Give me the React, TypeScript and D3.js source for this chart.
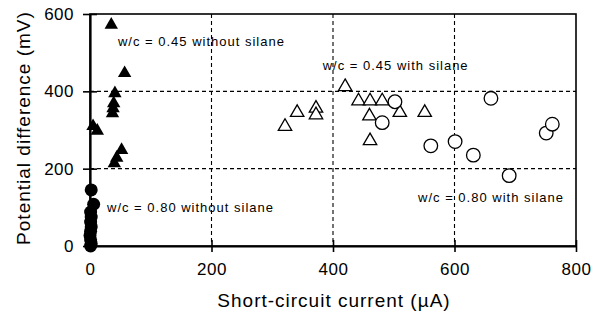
import { useRef, useEffect } from "react"
import * as d3 from "d3"

// w/c = 0.45 without silane (filled triangles)
const noSilane045X = [35, 57, 41, 39, 38, 37, 5, 12, 52, 44, 40]
const noSilane045Y = [572, 447, 395, 369, 356, 343, 310, 298, 248, 228, 214]

// w/c = 0.80 without silane (filled circles)
const noSilane080X = [2, 6, 1, 2, 1, 2, 1, 0, 1, 2, 1]
const noSilane080Y = [145, 108, 88, 75, 62, 50, 38, 27, 16, 6, 0]

// w/c = 0.45 with silane (open triangles)
const silane045X = [321, 341, 372, 372, 420, 442, 461, 481, 460, 510, 551, 461]
const silane045Y = [309, 345, 356, 339, 412, 375, 375, 375, 336, 345, 345, 272]

// w/c = 0.80 with silane (open circles)
const silane080X = [502, 481, 561, 601, 631, 690, 660, 751, 761]
const silane080Y = [373, 319, 259, 270, 235, 182, 382, 292, 315]

const xTicks = [0, 200, 400, 600, 800]
const yTicks = [0, 200, 400, 600]

const labels = [
  { text: "w/c = 0.45 without silane", x: 46, y: 516 },
  { text: "w/c = 0.45 with silane", x: 383, y: 455 },
  { text: "w/c = 0.80 without silane", x: 28, y: 88 },
  { text: "w/c = 0.80 with silane", x: 540, y: 114 },
]

export default function App() {
  const svgRef = useRef<SVGSVGElement>(null)

  function drawChart() {
    const width = 603
    const height = 322
    const left = 90
    const right = 576
    const top = 14
    const bottom = 246
    const font = "'Liberation Sans', Arial, Helvetica, sans-serif"

    const svg = d3.select(svgRef.current).attr("width", width).attr("height", height)
    svg.selectAll("*").remove()
    svg.append("rect").attr("width", width).attr("height", height).attr("fill", "#fff")

    const x = d3.scaleLinear().domain([0, 800]).range([left, right])
    const y = d3.scaleLinear().domain([0, 600]).range([bottom, top])

    // grid
    const grid = svg.append("g").attr("stroke", "#000").attr("stroke-width", 1.1).attr("stroke-dasharray", "4,3")
    grid
      .selectAll("line.v")
      .data(xTicks.slice(1, -1))
      .enter()
      .append("line")
      .attr("x1", (d) => x(d))
      .attr("x2", (d) => x(d))
      .attr("y1", top)
      .attr("y2", bottom)
    grid
      .selectAll("line.h")
      .data(yTicks.slice(1, -1))
      .enter()
      .append("line")
      .attr("x1", left)
      .attr("x2", right)
      .attr("y1", (d) => y(d))
      .attr("y2", (d) => y(d))

    // frame
    svg
      .append("rect")
      .attr("x", left)
      .attr("y", top)
      .attr("width", right - left)
      .attr("height", bottom - top)
      .attr("fill", "none")
      .attr("stroke", "#000")
      .attr("stroke-width", 1.6)

    // axes
    const xAxis = svg
      .append("g")
      .attr("transform", `translate(0,${bottom})`)
      .call(d3.axisBottom(x).tickValues(xTicks).tickSize(6).tickSizeOuter(0))
    xAxis.select(".domain").attr("stroke-width", 2.2)
    xAxis.selectAll(".tick line").attr("y1", -6).attr("stroke-width", 1.6)
    xAxis
      .selectAll(".tick text")
      .attr("y", 17)
      .attr("dy", "0.71em")
      .style("font-size", "17px")
      .style("letter-spacing", "0.5px")
      .style("font-family", font)
      .attr("fill", "#000")

    const yAxis = svg
      .append("g")
      .attr("transform", `translate(${left},0)`)
      .call(d3.axisLeft(y).tickValues(yTicks).tickSize(7).tickSizeOuter(0))
    yAxis.select(".domain").attr("stroke-width", 2.2)
    yAxis.selectAll(".tick line").attr("x2", 7).attr("x1", -7).attr("stroke-width", 1.6)
    yAxis
      .selectAll(".tick text")
      .attr("x", -16)
      .style("font-size", "17px")
      .style("letter-spacing", "0.5px")
      .style("font-family", font)
      .attr("fill", "#000")

    // axis titles
    svg
      .append("text")
      .attr("x", 334)
      .attr("y", 307)
      .attr("text-anchor", "middle")
      .style("font-size", "19px")
      .style("letter-spacing", "1px")
      .style("font-family", font)
      .text("Short-circuit current (\u00b5A)")
    svg
      .append("text")
      .attr("transform", `translate(30,128) rotate(-90)`)
      .attr("text-anchor", "middle")
      .style("font-size", "19px")
      .style("letter-spacing", "1px")
      .style("font-family", font)
      .text("Potential difference (mV)")

    const tri = d3.symbol().type(d3.symbolTriangle).size(78)

    // series
    const pts = (xs: number[], ys: number[]) => xs.map((v, i) => [v, ys[i]])

    svg
      .append("g")
      .selectAll("path")
      .data(pts(noSilane045X, noSilane045Y))
      .enter()
      .append("path")
      .attr("d", tri)
      .attr("transform", (d) => `translate(${x(d[0])},${y(d[1])})`)
      .attr("fill", "#000")

    svg
      .append("g")
      .selectAll("circle")
      .data(pts(noSilane080X, noSilane080Y))
      .enter()
      .append("circle")
      .attr("cx", (d) => x(d[0]))
      .attr("cy", (d) => y(d[1]))
      .attr("r", 6.5)
      .attr("fill", "#000")

    svg
      .append("g")
      .selectAll("path")
      .data(pts(silane045X, silane045Y))
      .enter()
      .append("path")
      .attr("d", tri)
      .attr("transform", (d) => `translate(${x(d[0])},${y(d[1])})`)
      .attr("fill", "#fff")
      .attr("stroke", "#000")
      .attr("stroke-width", 1.3)

    svg
      .append("g")
      .selectAll("circle")
      .data(pts(silane080X, silane080Y))
      .enter()
      .append("circle")
      .attr("cx", (d) => x(d[0]))
      .attr("cy", (d) => y(d[1]))
      .attr("r", 6.8)
      .attr("fill", "#fff")
      .attr("stroke", "#000")
      .attr("stroke-width", 1.3)

    // annotations
    svg
      .append("g")
      .selectAll("text")
      .data(labels)
      .enter()
      .append("text")
      .attr("x", (d) => x(d.x))
      .attr("y", (d) => y(d.y))
      .style("font-size", "13px")
      .style("letter-spacing", "1px")
      .style("font-family", font)
      .text((d) => d.text)
  }

  useEffect(() => {
    drawChart()
  }, [svgRef])

  return (
    <div>
      <svg ref={svgRef} style={{ position: "absolute", left: 0, top: 0 }}></svg>
    </div>
  )
}
